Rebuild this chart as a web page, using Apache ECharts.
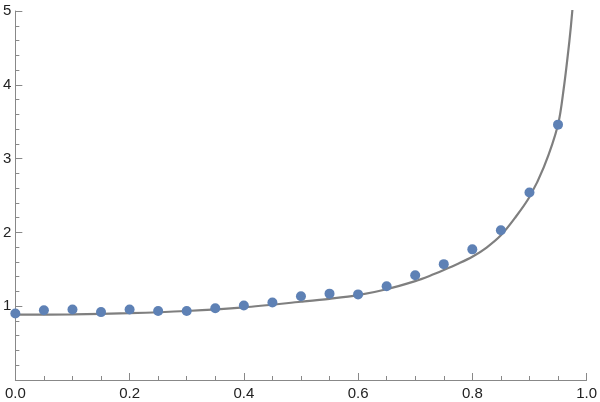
<!DOCTYPE html>
<html>
<head>
<meta charset="utf-8">
<script src="https://cdn.jsdelivr.net/npm/echarts@6/dist/echarts.min.js"></script>
<style>
  html, body { margin: 0; padding: 0; background: #fff; }
  #chart { width: 600px; height: 402px; }
</style>
</head>
<body>
<div id="chart"></div>
<script>
// measured points
const pointX = [0, 0.05, 0.1, 0.15, 0.2, 0.25, 0.3, 0.35, 0.4, 0.45, 0.5, 0.55, 0.6, 0.65, 0.7, 0.75, 0.8, 0.85, 0.9, 0.95];
const pointY = [0.90, 0.945, 0.955, 0.92, 0.955, 0.936, 0.936, 0.973, 1.01, 1.05, 1.136, 1.17, 1.16, 1.27, 1.42, 1.57, 1.77, 2.03, 2.54, 3.46];

// fitted curve
const curveX = [0, 0.1, 0.2, 0.3, 0.4, 0.5, 0.55, 0.6, 0.65, 0.7, 0.725, 0.75, 0.775, 0.8, 0.825, 0.85, 0.875, 0.9, 0.925, 0.95, 0.96, 0.97, 0.975, 0.98];
const curveY = [0.885, 0.89, 0.905, 0.935, 0.985, 1.06, 1.10, 1.15, 1.23, 1.34, 1.41, 1.49, 1.575, 1.67, 1.795, 1.96, 2.2, 2.48, 2.88, 3.46, 3.95, 4.6, 5.0, 5.5];

const axisColor = '#888';

const chart = echarts.init(document.getElementById('chart'), null, { renderer: 'canvas' });

const option = {
  animation: false,
  grid: { left: 15, right: 12, top: 11, bottom: 22, containLabel: false },
  xAxis: {
    type: 'value',
    min: 0,
    max: 1,
    interval: 0.2,
    axisLine: { onZero: false, lineStyle: { color: axisColor, width: 1 } },
    axisTick: { inside: true, length: 7, lineStyle: { color: axisColor } },
    minorTick: { show: true, splitNumber: 4, length: 4, lineStyle: { color: axisColor } },
    splitLine: { show: false },
    axisLabel: {
      color: '#222',
      fontFamily: 'Liberation Sans',
      fontSize: 15,
      margin: 6,
      formatter: function (v) { return v.toFixed(1); }
    }
  },
  yAxis: {
    type: 'value',
    min: 0,
    max: 5,
    interval: 1,
    axisLine: { show: true, onZero: false, lineStyle: { color: axisColor, width: 1 } },
    axisTick: { show: true, inside: true, length: 7, lineStyle: { color: axisColor } },
    minorTick: { show: true, splitNumber: 5, length: 4, lineStyle: { color: axisColor } },
    splitLine: { show: false },
    axisLabel: {
      color: '#222',
      fontFamily: 'Liberation Sans',
      fontSize: 15,
      margin: 4,
      formatter: function (v) { return v === 0 ? '' : String(v); }
    }
  },
  series: [
    {
      type: 'line',
      data: curveX.map((x, i) => [x, curveY[i]]),
      showSymbol: false,
      smooth: 0.3,
      clip: true,
      lineStyle: { color: '#7f7f7f', width: 2.2 },
      z: 2
    },
    {
      type: 'scatter',
      data: pointX.map((x, i) => [x, pointY[i]]),
      symbolSize: 10,
      itemStyle: { color: '#5e81b5', opacity: 1 },
      z: 3
    }
  ]
};

chart.setOption(option);
</script>
</body>
</html>
